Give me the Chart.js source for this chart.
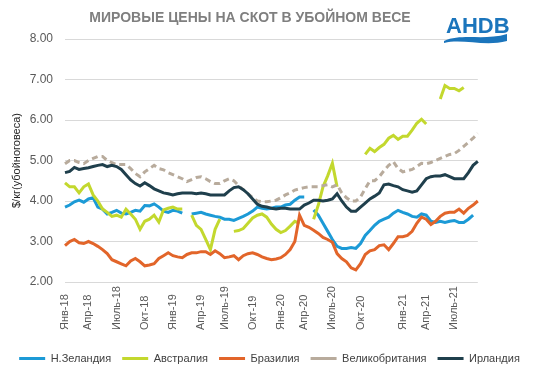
<!DOCTYPE html>
<html>
<head>
<meta charset="utf-8">
<script src="https://cdn.jsdelivr.net/npm/chart.js@4"></script>
<style>
  html, body { margin: 0; padding: 0; background: #ffffff; }
  #wrap { width: 539px; height: 378px; }
</style>
</head>
<body>
<div id="wrap"><canvas id="cattle_chart" width="539" height="378"></canvas></div>
<script>
// values, roughly every two weeks, Jan-18 .. Aug-21
const nz = [3.85, 3.9, 3.98, 4.02, 3.97, 4.05, 4.08, 3.85, 3.8, 3.68,
    3.72, 3.77, 3.7, 3.68, 3.72, 3.77, 3.75, 3.89, 3.88, 3.93,
    3.85, 3.75, 3.72, 3.77, 3.75, 3.7, null, 3.68, 3.7, 3.72,
    3.68, 3.65, 3.62, 3.6, 3.55, 3.55, 3.52, 3.57, 3.62, 3.68,
    3.75, 3.85, 3.82, 3.8, 3.82, 3.85, 3.85, 3.9, 3.92, 4.02,
    4.1, 4.1, null, 3.78, 3.65, 3.45, 3.25, 3.05, 2.88, 2.83,
    2.83, 2.85, 2.83, 2.95, 3.15, 3.27, 3.4, 3.5, 3.55, 3.6,
    3.7, 3.77, 3.72, 3.68, 3.62, 3.6, 3.68, 3.65, 3.5, 3.47,
    3.5, 3.47, 3.5, 3.52, 3.47, 3.47, 3.55, 3.65, null];
const australia = [4.45, 4.35, 4.35, 4.2, 4.35, 4.42, 4.15, 4.0, 3.8, 3.72,
    3.62, 3.65, 3.6, 3.8, 3.68, 3.55, 3.3, 3.5, 3.55, 3.65,
    3.48, 3.78, 3.82, 3.85, 3.8, 3.8, null, 3.65, 3.4, 3.3,
    3.05, 2.8, 3.3, 3.55, null, null, 3.25, 3.27, 3.32, 3.45,
    3.58, 3.65, 3.68, 3.6, 3.43, 3.3, 3.22, 3.27, 3.38, 3.5,
    3.45, null, null, 3.55, 3.9, 4.35, 4.62, 4.93, 4.35, null,
    null, null, null, null, 5.15, 5.3, 5.22, 5.32, 5.4, 5.55,
    5.62, 5.52, 5.6, 5.6, 5.75, 5.92, 6.02, 5.9, null, null,
    6.52, 6.85, 6.78, 6.78, 6.72, 6.8, null, null, null];
const brazil = [2.9, 3.0, 3.05, 2.97, 2.95, 3.0, 2.95, 2.88, 2.8, 2.7,
    2.55, 2.5, 2.45, 2.4, 2.52, 2.58, 2.5, 2.4, 2.42, 2.45,
    2.58, 2.65, 2.72, 2.65, 2.62, 2.6, 2.68, 2.72, 2.72, 2.75,
    2.75, 2.68, 2.77, 2.7, 2.6, 2.62, 2.65, 2.55, 2.65, 2.7,
    2.72, 2.68, 2.62, 2.58, 2.55, 2.57, 2.6, 2.68, 2.8, 3.0,
    3.65, 3.4, 3.35, 3.28, 3.2, 3.1, 3.05, 2.98, 2.7, 2.58,
    2.5, 2.35, 2.3, 2.45, 2.68, 2.77, 2.8, 2.9, 2.92, 2.8,
    2.95, 3.12, 3.12, 3.15, 3.25, 3.45, 3.6, 3.55, 3.42, 3.5,
    3.62, 3.7, 3.72, 3.72, 3.8, 3.7, 3.82, 3.9, 4.0];
const uk = [4.92, 5.0, 5.0, 4.95, 4.92, 5.0, 5.05, 5.1, 5.1, 5.0,
    4.95, 4.9, 4.9, 4.9, 4.8, 4.68, 4.6, 4.72, 4.8, 4.88,
    4.8, 4.77, 4.7, 4.65, 4.6, 4.55, 4.48, 4.53, 4.58, 4.6,
    4.55, 4.48, 4.43, 4.43, 4.5, 4.55, 4.5, 4.38, 4.28, 4.18,
    4.08, 4.0, 3.98, 3.98, 4.0, 4.02, 4.08, 4.15, 4.2, 4.27,
    4.3, 4.33, 4.35, 4.35, 4.35, 4.38, 4.4, 4.35, 4.4, 4.2,
    4.08, 4.0, 4.0, 4.1, 4.3, 4.5, 4.5, 4.6, 4.75, 4.88,
    4.97, 4.8, 4.72, 4.75, 4.78, 4.85, 4.93, 4.92, 4.95, 5.0,
    5.05, 5.1, 5.15, 5.17, 5.25, 5.35, 5.45, 5.55, 5.67];
const ireland = [4.7, 4.73, 4.83, 4.78, 4.8, 4.82, 4.85, 4.88, 4.9, 4.85,
    4.88, 4.85, 4.78, 4.65, 4.52, 4.43, 4.37, 4.45, 4.38, 4.3,
    4.25, 4.2, 4.18, 4.15, 4.18, 4.2, 4.2, 4.2, 4.18, 4.2,
    4.18, 4.15, 4.15, 4.15, 4.15, 4.25, 4.33, 4.35, 4.28, 4.18,
    4.05, 3.92, 3.87, 3.85, 3.82, 3.8, 3.82, 3.82, 3.8, 3.8,
    3.8, 3.9, 3.95, 4.02, 4.02, 4.0, 4.02, 4.05, 4.18, 4.0,
    3.85, 3.75, 3.75, 3.85, 3.95, 4.05, 4.12, 4.2, 4.4, 4.42,
    4.38, 4.35, 4.28, 4.25, 4.22, 4.25, 4.4, 4.55, 4.6, 4.62,
    4.62, 4.65, 4.6, 4.55, 4.55, 4.55, 4.7, 4.88, 4.98];

// which point each month label sits under
const tick_index = [0, 5, 11, 17, 23, 29, 34, 40, 46, 51, 57, 63, 72, 77, 83];
const tick_text = ["Янв-18", "Апр-18", "Июль-18", "Окт-18", "Янв-19", "Апр-19", "Июль-19", "Окт-19",
    "Янв-20", "Апр-20", "Июль-20", "Окт-20", "Янв-21", "Апр-21", "Июль-21"];

const series_names = ["Н.Зеландия", "Австралия", "Бразилия", "Великобритания", "Ирландия"];
const title_text = "МИРОВЫЕ ЦЕНЫ НА СКОТ В УБОЙНОМ ВЕСЕ";
const axis_title = "$/кг(убойноговеса)";

const FONT = '"Liberation Sans", Arial, sans-serif';

const header_plugin = {
    id: "header",
    afterDraw(chart) {
        const ctx = chart.ctx;
        ctx.save();
        ctx.fillStyle = "#7f7f7f";
        ctx.font = "bold 14px " + FONT;
        ctx.textAlign = "center";
        ctx.textBaseline = "middle";
        ctx.fillText(title_text, 250, 18);

        // AHDB logo
        ctx.fillStyle = "#1b75bc";
        ctx.font = "bold 22px " + FONT;
        ctx.textAlign = "left";
        ctx.textBaseline = "alphabetic";
        ctx.fillText("AHDB", 446, 33);
        ctx.beginPath();
        ctx.moveTo(444, 41);
        ctx.bezierCurveTo(462, 33, 484, 41, 507, 34);
        ctx.lineTo(507, 41);
        ctx.bezierCurveTo(484, 47, 462, 38, 444, 43);
        ctx.closePath();
        ctx.fill();
        ctx.restore();
    }
};

// month labels start at the bottom and read upwards
const x_label_plugin = {
    id: "xLabelAlign",
    beforeDraw(chart) {
        const sc = chart.scales.x;
        sc._getXAxisLabelAlignment = () => "left";
        sc._labelItems = null;
    }
};

function make_dataset(label, data, color, order, dash) {
    return {
        label: label,
        data: data,
        borderColor: color,
        backgroundColor: color,
        borderWidth: 3,
        borderDash: dash || [],
        pointRadius: 0,
        pointHoverRadius: 0,
        pointStyle: "line",
        tension: 0,
        spanGaps: false,
        order: order
    };
}

new Chart(document.getElementById("cattle_chart"), {
    type: "line",
    data: {
        labels: nz.map((v, i) => i),
        datasets: [
            make_dataset(series_names[0], nz, "#1c9ad6", 4),
            make_dataset(series_names[1], australia, "#c3d82e", 3),
            make_dataset(series_names[2], brazil, "#e2652a", 2),
            make_dataset(series_names[3], uk, "#b8ab9c", 1, [6, 4]),
            make_dataset(series_names[4], ireland, "#1f3f4c", 0)
        ]
    },
    options: {
        responsive: false,
        animation: false,
        layout: { padding: { top: 39, right: 0, bottom: 4, left: 0 } },
        scales: {
            x: {
                type: "category",
                offset: false,
                grid: { display: false, drawTicks: false },
                border: { display: false },
                afterFit: (s) => { s.height = 60; },
                ticks: {
                    autoSkip: false,
                    minRotation: 90,
                    maxRotation: 90,
                    padding: 48,
                    color: "#595959",
                    font: { family: FONT, size: 11 },
                    callback: function (value, index) {
                        const k = tick_index.indexOf(index);
                        return k >= 0 ? tick_text[k] : "";
                    }
                }
            },
            y: {
                min: 2,
                max: 8,
                afterFit: (s) => { s.width = 65; },
                grid: { color: "#d9d9d9", lineWidth: 1, drawTicks: false },
                border: { display: false },
                ticks: {
                    stepSize: 1,
                    padding: 12,
                    color: "#595959",
                    font: { family: FONT, size: 12 },
                    callback: (v) => v.toFixed(2)
                },
                title: {
                    display: true,
                    text: axis_title,
                    color: "#262626",
                    padding: { top: 10, bottom: 0 },
                    font: { family: FONT, size: 11 }
                }
            },
            // empty right axis, only keeps the room right of the plot
            y_right: {
                position: "right",
                afterFit: (s) => { s.width = 34; },
                grid: { display: false, drawTicks: false },
                border: { display: false },
                ticks: { display: false }
            }
        },
        plugins: {
            tooltip: { enabled: false },
            legend: {
                position: "bottom",
                labels: {
                    usePointStyle: true,
                    pointStyleWidth: 26,
                    padding: 11,
                    color: "#404040",
                    font: { family: FONT, size: 11 },
                    sort: (a, b) => a.datasetIndex - b.datasetIndex
                }
            }
        }
    },
    plugins: [header_plugin, x_label_plugin]
});
</script>
</body>
</html>
